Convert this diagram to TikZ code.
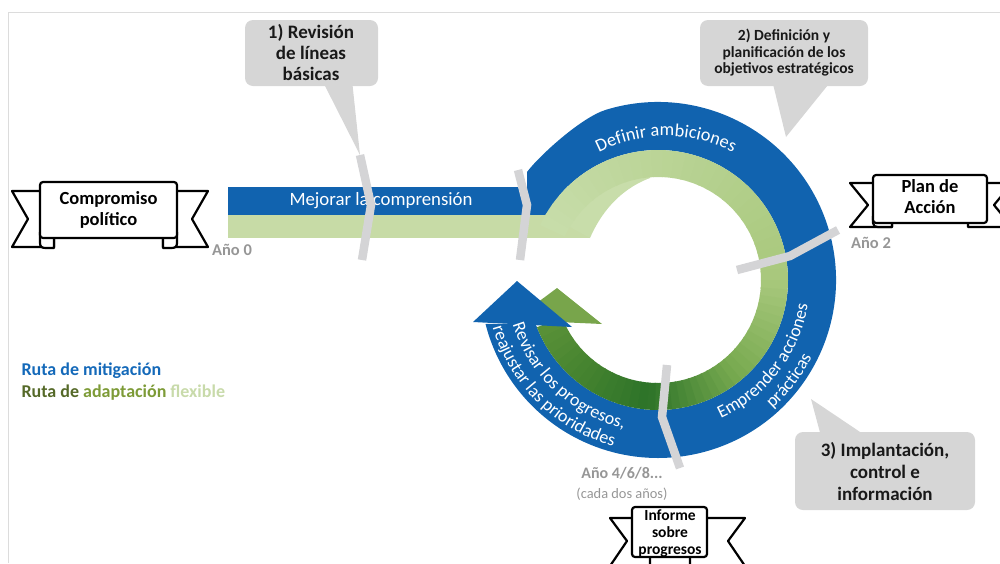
\documentclass[tikz,border=0pt]{standalone}
\usepackage{fontspec}
\setmainfont{Carlito}
\usetikzlibrary{decorations.text}
\definecolor{rblue}{RGB}{17,99,175}
\definecolor{lgreen}{RGB}{199,219,166}
\definecolor{g1}{RGB}{200,221,170}
\definecolor{g2}{RGB}{168,200,124}
\definecolor{g3}{RGB}{120,170,80}
\definecolor{g4}{RGB}{45,115,40}
\definecolor{g5}{RGB}{90,145,55}
\definecolor{garrow}{RGB}{120,165,75}
\definecolor{sepgray}{RGB}{212,212,214}
\definecolor{callgray}{RGB}{214,214,214}
\definecolor{yeargray}{RGB}{150,150,150}
\definecolor{legblue}{RGB}{20,105,185}
\definecolor{legdark}{RGB}{85,105,40}
\definecolor{legmid}{RGB}{125,155,55}
\definecolor{leglight}{RGB}{200,218,170}
\definecolor{framegray}{RGB}{220,220,220}
\newcommand\ringseg[5]{%
  \foreach \k in {1,...,#5}{%
    \pgfmathsetmacro\angA{#1+(#2-#1)*(\k-1)/#5}%
    \pgfmathsetmacro\angB{#1+(#2-#1)*\k/#5+0.7}%
    \pgfmathsetmacro\mixp{100*(\k-0.5)/#5}%
    \fill[#4!\mixp!#3] ([shift={(658,280)}]\angA:130) arc[start angle=\angA, end angle=\angB, radius=130] -- ([shift={(658,280)}]\angB:103) arc[start angle=\angB, end angle=\angA, radius=103] -- cycle;
  }%
}
\newcommand\arctext[5]{% radius, start, end, size, text
  \path[decorate, decoration={text along path, text align=center, text={|\fontsize{#4}{21}\selectfont\color{white}|#5}}] ([shift={(658,280)}]#2:#1) arc[start angle=#2, end angle=#3, radius=#1];
}
\tikzset{
  sepline/.style={sepgray, line width=8.5pt, line join=miter},
  callbox/.style={fill=callgray, rounded corners=8pt},
  calltext/.style={font=\bfseries\fontsize{19}{21}\selectfont, align=center, text=black!90},
  ribbon/.style={draw=black, line width=2.2pt, fill=white, line join=round},
  bantext/.style={font=\bfseries\fontsize{18.5}{21}\selectfont, align=center, text=black},
  yeartext/.style={font=\bfseries\fontsize{16.5}{18}\selectfont, text=yeargray},
  bandtext/.style={font=\fontsize{18}{21}\selectfont, text=white, align=center},
}
\begin{document}
\begin{tikzpicture}[x=1pt,y=-1pt]
\useasboundingbox (0,0) rectangle (1000,563);
\clip (0,0) rectangle (1000,563);
\draw[framegray, line width=1pt] (8,563) -- (8,12) -- (1000,12);

% blue path
\fill[rblue] (228,187) rectangle (560,215);
\fill[rblue] (527,215) -- (527,172) .. controls (539,156) and (581,117.5) .. ([shift={(658,280)}]253:178) arc[start angle=253, end angle=525.7, radius=178] -- ([shift={(658,280)}]520.2:130) arc[start angle=520.2, end angle=215, radius=130] -- cycle;

% green path
\fill[lgreen] (228,215) rectangle (590,238);
\fill[g1] (548,215) -- (590,238) .. controls (600,215) and (618,190) .. (650,178) -- (650,150) -- cycle;
\ringseg{205}{360}{g1}{g2}{30}
\ringseg{360}{410}{g2}{g3}{12}
\ringseg{410}{455}{g3}{g4}{12}
\ringseg{455}{518}{g4}{g5}{15}
\fill[garrow] (514,320) -- (557,288) -- (602,324) -- cycle;
\fill[rblue] (473,322) -- (517,281) -- (572,327) -- cycle;

% band texts
\node[bandtext, font=\fontsize{18.8}{21}\selectfont] (mejorar) at (381,201) {Mejorar la comprensión};
\path[decorate, decoration={text along path, text align=center, text={|\fontsize{18.3}{21}\selectfont\color{white}|Definir ambiciones}}] ([shift={(666,282)}]230:146) arc[start angle=230, end angle=310, radius=146];
\arctext{152}{75}{0}{18}{Emprender acciones}
\arctext{172}{75}{0}{18}{prácticas}
\arctext{152}{170}{96}{18}{Revisar los progresos,}
\arctext{172}{172}{97}{18}{reajustar las prioridades}

% separators
\draw[sepline] (360,155) -- (371,205) -- (362,260);
\draw[sepline] (518,170) -- (527,205) -- (520,260);
\draw[sepline] (737,270) -- (790,256) -- (838,230);
\draw[sepline] (667,365) -- (662,417) -- (680,468);

% callouts
\fill[callbox] (245,20) rectangle (378,86);
\fill[callgray] (322,80) -- (352,80) -- (360,155) -- cycle;
\node[calltext] (c1) at (311,53) {1) Revisión\\de líneas\\básicas};
\fill[callbox] (700,20) rectangle (868,86);
\fill[callgray] (772,80) -- (832,80) -- (786,137) -- cycle;
\node[calltext, font=\bfseries\fontsize{15.5}{16.5}\selectfont] (c2) at (784,53) {2) Definición y\\planificación de los\\objetivos estratégicos};
\fill[callbox] (795,432) rectangle (975,510);
\fill[callgray] (811,399) -- (822,440) -- (872,440) -- cycle;
\node[calltext, font=\bfseries\fontsize{19}{22}\selectfont] (c3) at (885,472) {3) Implantación,\\control e\\información};

% banner: Compromiso politico
\draw[ribbon] (12,191) -- (54,191) -- (54,247) -- (12,247) -- (28,219) -- cycle;
\draw[ribbon] (208,191) -- (163,191) -- (163,247) -- (208,247) -- (192,219) -- cycle;
\draw[ribbon] (40,232) -- (40,243) .. controls (40,247) and (42,248) .. (46,248) -- (54,248) -- (54,236);
\draw[ribbon] (177,232) -- (177,243) .. controls (177,247) and (175,248) .. (171,248) -- (163,248) -- (163,236);
\draw[ribbon, rounded corners=3pt] (40,182) rectangle (177,238);
\node[bantext] (b1) at (108.5,210) {Compromiso\\político};

% banner: Plan de Accion
\draw[ribbon] (850,183) -- (892,183) -- (892,227) -- (850,227) -- (868,205) -- cycle;
\draw[ribbon] (1012,183) -- (968,183) -- (968,227) -- (1012,227) -- (994,205) -- cycle;
\draw[ribbon] (873,216) -- (873,223) .. controls (873,226) and (875,227) .. (878,227) -- (892,227) -- (892,220);
\draw[ribbon, rounded corners=3pt] (873,175) rectangle (987,223);
\node[bantext] (b2) at (930,197) {Plan de\\Acción};

% banner: Informe sobre progresos
\draw[ribbon] (610,518) -- (650,518) -- (650,566) -- (610,566) -- (627,541) -- cycle;
\draw[ribbon] (745,518) -- (690,518) -- (690,566) -- (745,566) -- (728,541) -- cycle;
\draw[ribbon, rounded corners=3pt] (632,507) rectangle (707,557);
\node[bantext, font=\bfseries\fontsize{15.5}{17}\selectfont] (b3) at (670,533) {Informe\\sobre\\progresos};

% year labels
\node[yeartext] (y0) at (232,250) {Año 0};
\node[yeartext] (y2) at (871,243) {Año 2};
\node[yeartext, font=\bfseries\fontsize{16}{18}\selectfont] (y4) at (622,473) {Año 4/6/8...};
\node[font=\fontsize{14.4}{16}\selectfont, text=yeargray] (y4b) at (622,494) {(cada dos años)};

% legend
\node[anchor=west, font=\bfseries\fontsize{18}{20}\selectfont, text=legblue] (l1) at (18,371) {Ruta de mitigación};
\node[anchor=west, font=\bfseries\fontsize{18}{20}\selectfont] (l2) at (18,393) {\textcolor{legdark}{Ruta de} \textcolor{legmid}{adaptación} \textcolor{leglight}{flexible}};
\end{tikzpicture}
\end{document}
